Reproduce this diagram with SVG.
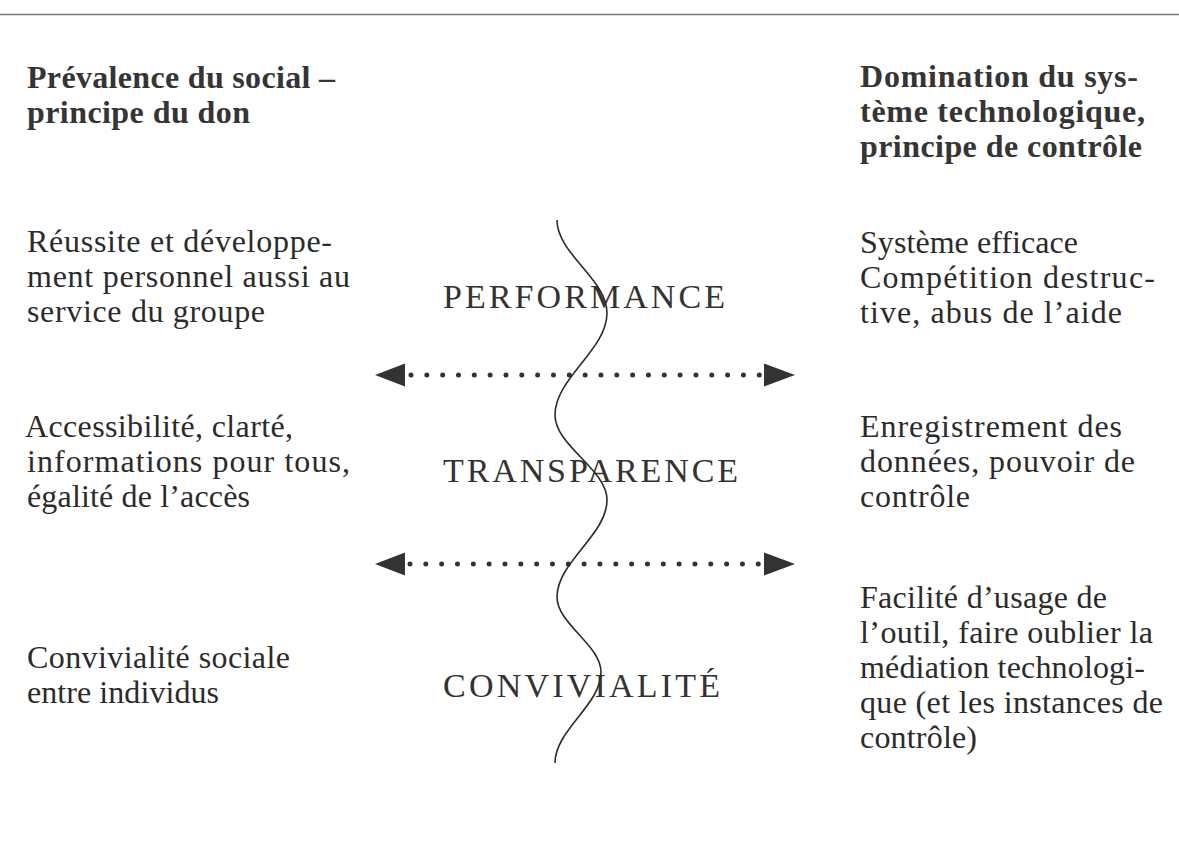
<svg xmlns="http://www.w3.org/2000/svg" width="1179" height="845" viewBox="0 0 1179 845">
  <style>
    text { font-family: "Liberation Serif", "Times New Roman", serif; fill: #2b2b2b; }
    .head { font-size: 32px; font-weight: bold; fill: #353535; }
    .body { font-size: 32px; }
    .key { font-size: 34px; fill: #333; }
    .dots { stroke: #333; stroke-width: 5; stroke-linecap: round; stroke-dasharray: 0 15.83; fill: none; }
    .tip { fill: #333; }
    .wave { fill: none; stroke: #2b2b2b; stroke-width: 1.6; }
  </style>

  <rect width="1179" height="845" fill="#ffffff"/>

  <!-- header rule -->
  <line x1="0" y1="14.5" x2="1179" y2="14.5" stroke="#7a7a7a" stroke-width="1.6"/>

  <!-- left column: social side -->
  <g id="left-heading">
    <text class="head" x="27" y="88" textLength="308" lengthAdjust="spacing">Prévalence du social –</text>
    <text class="head" x="27" y="123" textLength="223" lengthAdjust="spacing">principe du don</text>
  </g>
  <g id="left-performance">
    <text class="body" x="27" y="252" textLength="305" lengthAdjust="spacing">Réussite et développe-</text>
    <text class="body" x="27" y="287" textLength="323" lengthAdjust="spacing">ment personnel aussi au</text>
    <text class="body" x="27" y="322" textLength="238" lengthAdjust="spacing">service du groupe</text>
  </g>
  <g id="left-transparence">
    <text class="body" x="25" y="437" textLength="268" lengthAdjust="spacing">Accessibilité, clarté,</text>
    <text class="body" x="27" y="472" textLength="323" lengthAdjust="spacing">informations pour tous,</text>
    <text class="body" x="27" y="507" textLength="223" lengthAdjust="spacing">égalité de l’accès</text>
  </g>
  <g id="left-convivialite">
    <text class="body" x="27" y="668" textLength="263" lengthAdjust="spacing">Convivialité sociale</text>
    <text class="body" x="27" y="703" textLength="192" lengthAdjust="spacing">entre individus</text>
  </g>

  <!-- right column: technological side -->
  <g id="right-heading">
    <text class="head" x="860" y="87" textLength="278" lengthAdjust="spacing">Domination du sys-</text>
    <text class="head" x="860" y="122" textLength="285" lengthAdjust="spacing">tème technologique,</text>
    <text class="head" x="860" y="157" textLength="282" lengthAdjust="spacing">principe de contrôle</text>
  </g>
  <g id="right-performance">
    <text class="body" x="860" y="253" textLength="218" lengthAdjust="spacing">Système efficace</text>
    <text class="body" x="860" y="288" textLength="295" lengthAdjust="spacing">Compétition destruc-</text>
    <text class="body" x="860" y="323" textLength="262" lengthAdjust="spacing">tive, abus de l’aide</text>
  </g>
  <g id="right-transparence">
    <text class="body" x="860" y="437" textLength="262" lengthAdjust="spacing">Enregistrement des</text>
    <text class="body" x="860" y="472" textLength="275" lengthAdjust="spacing">données, pouvoir de</text>
    <text class="body" x="860" y="507" textLength="110" lengthAdjust="spacing">contrôle</text>
  </g>
  <g id="right-convivialite">
    <text class="body" x="860" y="608" textLength="247" lengthAdjust="spacing">Facilité d’usage de</text>
    <text class="body" x="860" y="643" textLength="293" lengthAdjust="spacing">l’outil, faire oublier la</text>
    <text class="body" x="860" y="678" textLength="285" lengthAdjust="spacing">médiation technologi-</text>
    <text class="body" x="860" y="713" textLength="303" lengthAdjust="spacing">que (et les instances de</text>
    <text class="body" x="860" y="748" textLength="117" lengthAdjust="spacing">contrôle)</text>
  </g>

  <!-- central key words -->
  <g id="key-performance">
    <text class="key" x="443" y="308" textLength="282" lengthAdjust="spacing">PERFORMANCE</text>
  </g>
  <g id="key-transparence">
    <text class="key" x="443" y="482" textLength="295" lengthAdjust="spacing">TRANSPARENCE</text>
  </g>
  <g id="key-convivialite">
    <text class="key" x="443" y="697" textLength="277" lengthAdjust="spacing">CONVIVIALITÉ</text>
  </g>

  <!-- connectors: dotted double arrows and the wavy divide -->
  <g id="connectors">
    <g id="arrow-upper">
      <line class="dots" x1="411" y1="375" x2="760" y2="375"/>
      <polygon class="tip" points="375,375 405,363.5 405,386.5"/>
      <polygon class="tip" points="795,375 764,363.5 764,386.5"/>
    </g>
    <g id="arrow-lower">
      <line class="dots" x1="410" y1="564" x2="759" y2="564"/>
      <polygon class="tip" points="375,564 405,552.5 405,575.5"/>
      <polygon class="tip" points="795,564 764,552.5 764,575.5"/>
    </g>
    <path id="divide" class="wave" d="M557,220
      C557,254 607,279 607,313
      C607,350 555,378 555,415
      C555,446 607,469 607,500
      C607,535 557,562 557,597
      C557,624 601,645 601,672
      C601,705 555,730 555,763"/>
  </g>
</svg>
